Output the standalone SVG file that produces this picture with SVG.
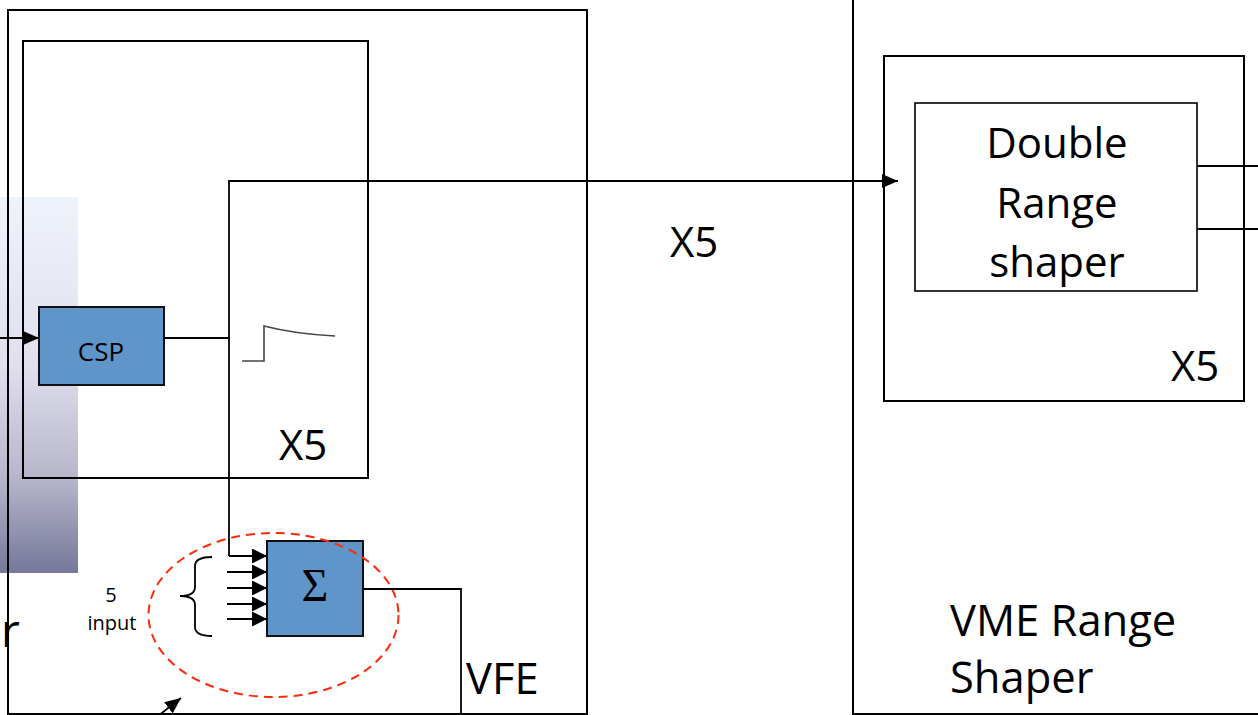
<svg xmlns="http://www.w3.org/2000/svg" width="1258" height="715" viewBox="0 0 1258 715">
<style>
.box{fill:none;stroke:#000;stroke-width:2}
.thin{fill:none;stroke:#000;stroke-width:1.6}
.blue{fill:#5f95c8;stroke:#111;stroke-width:2}
.wire{fill:none;stroke:#000;stroke-width:1.8}
.big{font-family:"Open Sans","Liberation Sans",sans-serif;font-size:42px;fill:#000}
.lg{font-size:43.5px}
.sm{font-family:"Open Sans","Liberation Sans",sans-serif;font-size:20px;fill:#000;text-anchor:middle}
</style>
<defs>
<linearGradient id="grad" x1="0" y1="0" x2="0" y2="1">
<stop offset="0" stop-color="#eef3fb"/>
<stop offset="0.45" stop-color="#e0dfee"/>
<stop offset="0.75" stop-color="#b6b5ca"/>
<stop offset="1" stop-color="#75789a"/>
</linearGradient>
<marker id="arr" viewBox="0 0 16 14" refX="16" refY="7" markerWidth="16" markerHeight="14" markerUnits="userSpaceOnUse" orient="auto">
<path d="M0,0 L16,7 L0,14 Z" fill="#000"/>
</marker>
<marker id="arrS" viewBox="0 0 15 15" refX="15" refY="7.5" markerWidth="15" markerHeight="15" markerUnits="userSpaceOnUse" orient="auto">
<path d="M0,0 L15,7.5 L0,15 Z" fill="#000"/>
</marker>
</defs>
<rect x="0" y="0" width="1258" height="715" fill="#fff"/>
<rect x="0" y="197" width="78" height="376" fill="url(#grad)"/>

<g id="vfe">
<rect class="box" x="8" y="10" width="579" height="704"/>
<text class="big lg" x="466" y="694">VFE</text>
</g>
<g id="channel">
<rect class="box" x="23" y="41" width="345" height="437"/>
<text class="big" x="279" y="460">X5</text>
</g>
<g id="csp">
<rect class="blue" x="39" y="307" width="125" height="78"/>
<text x="101" y="361" font-family="Open Sans, Liberation Sans, sans-serif" font-size="26" text-anchor="middle" fill="#000">CSP</text>
</g>
<g id="pulse">
<path d="M242,361 L264,361 L264,326 Q295,334 335,336" fill="none" stroke="#444" stroke-width="1.6"/>
</g>
<g id="sum">
<rect class="blue" x="267" y="541" width="96" height="95"/>
<text x="315" y="601" font-family="Liberation Serif, serif" font-size="46" text-anchor="middle" fill="#000">Σ</text>
</g>
<g id="sum-inputs">
<path d="M212,557 Q195,557 195,566 L195,587 Q195,596 180,596 Q195,596 195,605 L195,627 Q195,636 212,636" fill="none" stroke="#000" stroke-width="1.8"/>
<text class="sm" x="111" y="602">5</text>
<text class="sm" x="112" y="630">input</text>
</g>
<g id="highlight">
<ellipse cx="273.5" cy="615" rx="125" ry="82" fill="none" stroke="#ff2a0a" stroke-width="2" stroke-dasharray="9,6"/>
</g>
<g id="r-label">
<text x="1" y="647" font-family="Open Sans, Liberation Sans, sans-serif" font-size="46" fill="#000">r</text>
</g>
<g id="x5-mid">
<text class="big" x="670" y="257">X5</text>
</g>
<g id="vme">
<path class="box" d="M853,0 L853,714 L1258,714"/>
<text class="big lg" x="950" y="636">VME Range</text>
<text class="big lg" x="950" y="693">Shaper</text>
</g>
<g id="shaper-x5">
<rect class="box" x="884" y="56" width="360" height="345"/>
<text class="big" x="1171" y="381">X5</text>
</g>
<g id="double-range">
<rect class="thin" x="915" y="103" width="282" height="188"/>
<text class="big" x="1057" y="158" text-anchor="middle">Double</text>
<text class="big" x="1057" y="218" text-anchor="middle">Range</text>
<text class="big" x="1057" y="277" text-anchor="middle">shaper</text>
</g>

<g id="connectors">
<line class="wire" x1="0" y1="338" x2="39" y2="338" marker-end="url(#arr)"/>
<line class="wire" x1="164" y1="338" x2="229" y2="338"/>
<path class="wire" d="M229,556 L229,181 L898,181" marker-end="url(#arr)"/>
<line class="wire" x1="229" y1="556" x2="267" y2="556" marker-end="url(#arrS)"/>
<line class="wire" x1="227" y1="572" x2="267" y2="572" marker-end="url(#arrS)"/>
<line class="wire" x1="227" y1="588" x2="267" y2="588" marker-end="url(#arrS)"/>
<line class="wire" x1="227" y1="604" x2="267" y2="604" marker-end="url(#arrS)"/>
<line class="wire" x1="227" y1="619" x2="267" y2="619" marker-end="url(#arrS)"/>
<path class="wire" d="M363,589 L461,589 L461,714"/>
<line class="wire" x1="1197" y1="166" x2="1258" y2="166"/>
<line class="wire" x1="1197" y1="229" x2="1258" y2="229"/>
<line class="wire" x1="158" y1="716" x2="181" y2="698" marker-end="url(#arr)"/>
</g>
</svg>
